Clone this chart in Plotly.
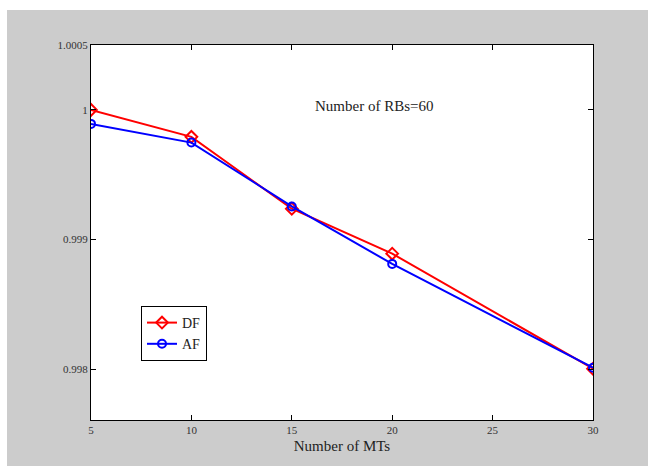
import plotly.graph_objects as go

mts = [5, 10, 15, 20, 30]
df_vals = [1.0000, 0.999792, 0.999238, 0.998892, 0.998005]
af_vals = [0.999892, 0.999748, 0.999256, 0.998813, 0.998013]
x_ticks = [5, 10, 15, 20, 25, 30]
y_ticks = [0.998, 0.999, 1.0, 1.0005]
y_ticktext = ["0.998", "0.999", "1", "1.0005"]

FONT = "Liberation Serif"

fig = go.Figure()
fig.add_trace(go.Scatter(x=mts, y=df_vals, name="DF", mode="lines+markers",
                         line=dict(color="#ff0000", width=2),
                         marker=dict(symbol="diamond-open", size=9, color="#ff0000",
                                     line=dict(width=2, color="#ff0000"))))
fig.add_trace(go.Scatter(x=mts, y=af_vals, name="AF", mode="lines+markers",
                         line=dict(color="#0000ff", width=2),
                         marker=dict(symbol="circle-open", size=8, color="#0000ff",
                                     line=dict(width=2, color="#0000ff"))))

L, R, T, B = 91, 55, 45, 46
W, H = 648, 466
pw, ph = W - L - R, H - T - B

fig.add_shape(type="rect", xref="paper", yref="paper",
              x0=(7 - L) / pw, x1=(W + 5 - L) / pw,
              y0=-(H + 5 - (H - B)) / ph, y1=((H - B) - 10) / ph,
              fillcolor="#cccccc", line=dict(width=0), layer="below")
fig.add_shape(type="rect", xref="paper", yref="paper", x0=0, x1=1, y0=0, y1=1,
              fillcolor="white", line=dict(width=0), layer="below")

fig.add_annotation(x=19.1, y=1.00003, text="Number of RBs=60", showarrow=False,
                   font=dict(family=FONT, size=15, color="#222222"))

axis_common = dict(showline=True, linecolor="black", linewidth=1, mirror="ticks",
                   ticks="inside", ticklen=5, tickcolor="black", showgrid=False,
                   zeroline=False, tickfont=dict(family=FONT, size=11, color="#333333"))

fig.update_xaxes(range=[5, 30], tickvals=x_ticks,
                 title=dict(text="Number of MTs", font=dict(family=FONT, size=15, color="#222222"),
                            standoff=5),
                 **axis_common)
fig.update_yaxes(range=[0.99761, 1.0005], tickvals=y_ticks, ticktext=y_ticktext,
                 **axis_common)

fig.update_layout(
    width=W, height=H,
    margin=dict(l=L, r=R, t=T, b=B),
    paper_bgcolor="white", plot_bgcolor="white",
    showlegend=True,
    legend=dict(x=(141 - L) / pw, y=(420 - 306) / ph, xanchor="left", yanchor="top",
                bgcolor="white", bordercolor="black", borderwidth=1,
                font=dict(family=FONT, size=14, color="#222222"),
                tracegroupgap=0, itemwidth=30),
)

fig.write_html("out.html")
